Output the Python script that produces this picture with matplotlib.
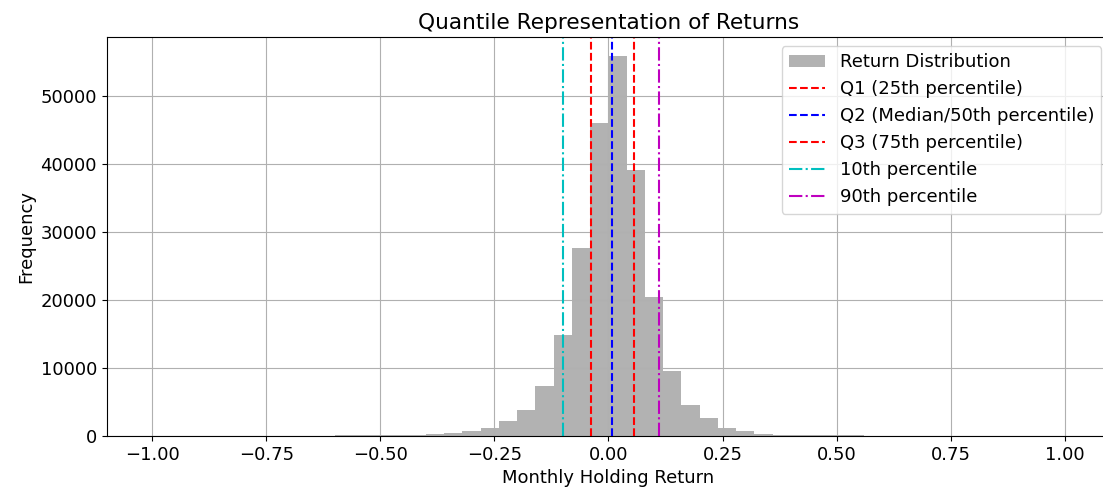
import matplotlib.pyplot as plt
import numpy as np

plt.rcParams['font.size'] = 13

# histogram bins (width 0.04 from -1 to 1) and counts
bin_edges = np.linspace(-1.0, 1.0, 51)
counts = [0, 0, 0, 0, 0, 0, 0, 0, 0, 0,
          140, 150, 150, 160, 170, 290, 480, 780, 1270, 2240,
          3800, 7360, 14870, 27700, 46000, 55850, 39100, 20400, 9650, 4530,
          2620, 1270, 730, 390, 190, 140, 130, 130, 120, 0,
          0, 0, 0, 0, 0, 0, 0, 0, 0, 0]

# percentile positions
p10 = -0.099
q1 = -0.039
q2 = 0.0085
q3 = 0.057
p90 = 0.111

centers = (bin_edges[:-1] + bin_edges[1:]) / 2

fig, ax = plt.subplots(figsize=(11.03, 4.94))
fig.subplots_adjust(left=0.0967, right=1.0066, top=0.925, bottom=0.117)

ax.hist(centers, bins=bin_edges, weights=counts, color='gray', alpha=0.6,
        label='Return Distribution')
ax.axvline(q1, color='r', linestyle='--', label='Q1 (25th percentile)')
ax.axvline(q2, color='b', linestyle='--', label='Q2 (Median/50th percentile)')
ax.axvline(q3, color='r', linestyle='--', label='Q3 (75th percentile)')
ax.axvline(p10, color='c', linestyle='-.', label='10th percentile')
ax.axvline(p90, color='m', linestyle='-.', label='90th percentile')

ax.set_title('Quantile Representation of Returns')
ax.set_xlabel('Monthly Holding Return')
ax.set_ylabel('Frequency')
ax.legend(loc='upper right')
ax.grid(True)

plt.savefig('out.png')
